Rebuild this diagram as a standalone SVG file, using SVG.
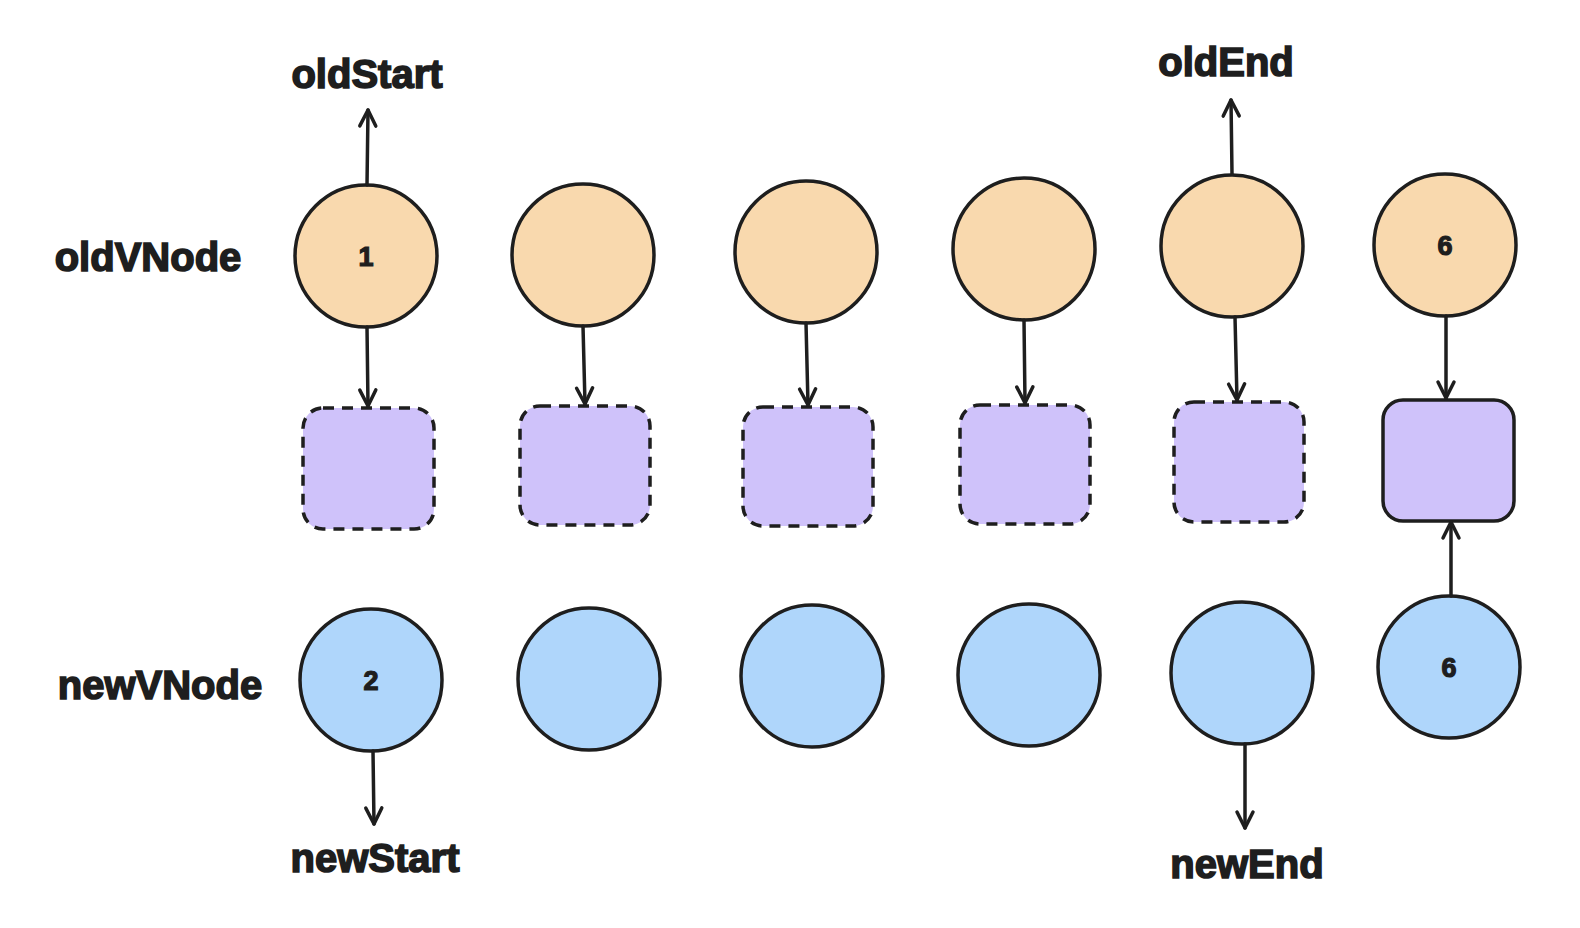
<svg xmlns="http://www.w3.org/2000/svg" width="1580" height="928" viewBox="0 0 1580 928">
<defs>
<marker id="ah" viewBox="0 0 22 22" refX="19" refY="11" markerWidth="22" markerHeight="22" markerUnits="userSpaceOnUse" orient="auto">
<path d="M3,3 L19,11 L3,19" fill="none" stroke="#1e1e1e" stroke-width="3.5" stroke-linecap="round" stroke-linejoin="round"/>
</marker>
</defs>
<style>
.old{fill:#f9d9ae;stroke:#1e1e1e;stroke-width:3.5}
.new{fill:#afd6fb;stroke:#1e1e1e;stroke-width:3.5}
.sq{fill:#cfc2fa;stroke:#1e1e1e;stroke-width:3.5}
.dash{stroke-dasharray:11 8}
.lbl{font-family:"Liberation Sans",Arial,sans-serif;font-weight:bold;font-size:40px;fill:#1e1e1e;stroke:#1e1e1e;stroke-width:1.6;text-anchor:middle}
.num{font-family:"Liberation Sans",Arial,sans-serif;font-weight:bold;font-size:27px;fill:#1e1e1e;stroke:#1e1e1e;stroke-width:1.2;text-anchor:middle}
.arr{fill:none;stroke:#1e1e1e;stroke-width:3.5;stroke-linecap:round;marker-end:url(#ah)}
</style>
<rect width="1580" height="928" fill="#ffffff"/>
<g id="labels">
<text class="lbl" x="367" y="88">oldStart</text>
<text class="lbl" x="1226" y="76">oldEnd</text>
<text class="lbl" x="148" y="271">oldVNode</text>
<text class="lbl" x="160" y="699">newVNode</text>
<text class="lbl" x="375" y="872">newStart</text>
<text class="lbl" x="1247" y="878">newEnd</text>
</g>
<g id="old1"><circle class="old" cx="366" cy="256" r="71"/><text class="num" x="366" y="266">1</text></g>
<g id="old2"><circle class="old" cx="583" cy="255" r="71"/></g>
<g id="old3"><circle class="old" cx="806" cy="252" r="71"/></g>
<g id="old4"><circle class="old" cx="1024" cy="249" r="71"/></g>
<g id="old5"><circle class="old" cx="1232" cy="246" r="71"/></g>
<g id="old6"><circle class="old" cx="1445" cy="245" r="71"/><text class="num" x="1445" y="255">6</text></g>
<g id="sq1"><rect class="sq dash" x="303" y="408" width="131" height="121" rx="20"/></g>
<g id="sq2"><rect class="sq dash" x="520" y="406" width="130" height="119" rx="20"/></g>
<g id="sq3"><rect class="sq dash" x="743" y="407" width="130" height="119" rx="20"/></g>
<g id="sq4"><rect class="sq dash" x="960" y="405" width="130" height="119" rx="20"/></g>
<g id="sq5"><rect class="sq dash" x="1174" y="402" width="130" height="120" rx="20"/></g>
<g id="sq6"><rect class="sq" x="1383" y="400" width="131" height="121" rx="20"/></g>
<g id="new1"><circle class="new" cx="371" cy="680" r="71"/><text class="num" x="371" y="690">2</text></g>
<g id="new2"><circle class="new" cx="589" cy="679" r="71"/></g>
<g id="new3"><circle class="new" cx="812" cy="676" r="71"/></g>
<g id="new4"><circle class="new" cx="1029" cy="675" r="71"/></g>
<g id="new5"><circle class="new" cx="1242" cy="673" r="71"/></g>
<g id="new6"><circle class="new" cx="1449" cy="667" r="71"/><text class="num" x="1449" y="677">6</text></g>
<g id="connectors">
<path class="arr" d="M367,185 L368,110"/>
<path class="arr" d="M1232,174 L1231,100"/>
<path class="arr" d="M367,327 L368,406"/>
<path class="arr" d="M583,326 L585,404"/>
<path class="arr" d="M806,323 L808,405"/>
<path class="arr" d="M1024,320 L1025,403"/>
<path class="arr" d="M1235,317 L1237,400"/>
<path class="arr" d="M1446,316 L1446,398"/>
<path class="arr" d="M1451,596 L1451,522"/>
<path class="arr" d="M373,751 L374,824"/>
<path class="arr" d="M1245,744 L1245,828"/>
</g>
</svg>
